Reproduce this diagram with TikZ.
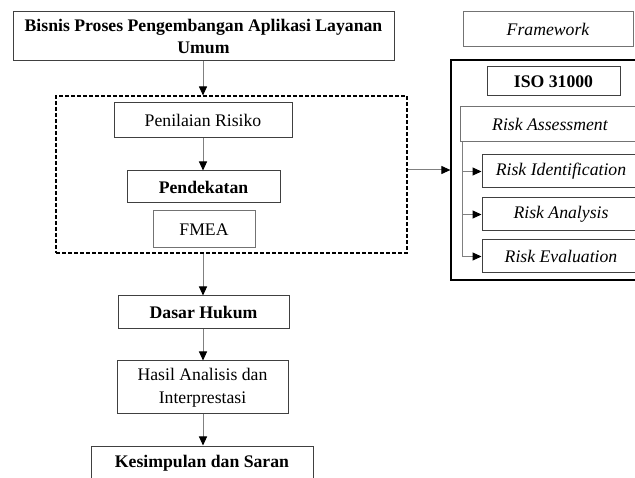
\documentclass[tikz,border=0pt]{standalone}
\usepackage{fontspec}
\setmainfont{Liberation Serif}
\usetikzlibrary{arrows.meta,calc}
\begin{document}
\begin{tikzpicture}[x=1pt,y=-1pt,
  every node/.style={font=\fontsize{17.7}{22.5}\selectfont},
  bf/.style={font=\fontsize{17.7}{22.5}\selectfont\bfseries},
  it/.style={font=\fontsize{17.7}{22.5}\selectfont\itshape},
  box/.style={draw=black!75, line width=1pt, inner sep=0pt, align=center, fill=white},
  lbox/.style={draw=black!55, line width=1pt, inner sep=0pt, align=center, fill=white},
  dbox/.style={draw=black, line width=1.1pt, dash pattern=on 4pt off 2pt, inner sep=0pt},
  arr/.style={draw=black!50, line width=1pt, -{Triangle[length=9pt,width=8pt,fill=black,color=black]}}]
\useasboundingbox (0,0) rectangle (635,478);
\clip (0,0) rectangle (635,478);
\fill[white] (0,0) rectangle (635,478);
% left column
\node[box, bf, minimum width=381, minimum height=49] (top) at (203.5,36.5) {Bisnis Proses Pengembangan Aplikasi Layanan\\Umum};
\node[dbox, minimum width=351, minimum height=157] (dash) at (231.5,174.5) {};
\node[box, minimum width=178, minimum height=35] (pen) at (203,120.5) {Penilaian Risiko};
\node[box, bf, minimum width=153, minimum height=32] (pend) at (203.5,187) {Pendekatan};
\node[lbox, minimum width=102, minimum height=37] (fmea) at (204,229.5) {FMEA};
\node[box, bf, minimum width=171, minimum height=33] (dasar) at (203.5,312.5) {Dasar Hukum};
\node[box, minimum width=171, minimum height=53] (hasil) at (202.5,387.5) {Hasil Analisis dan\\Interprestasi};
\node[box, bf, minimum width=222, minimum height=34] (kes) at (202,463) {Kesimpulan dan Saran};
\coordinate (axis) at (203,0);
% right column
\node[lbox, it, minimum width=170, minimum height=35] (fw) at (548,29.5) {Framework};
\node[draw=black, line width=1.2pt, inner sep=0pt, minimum width=200, minimum height=220] (outer) at (551,170) {};
\node[box, bf, minimum width=133, minimum height=29] (iso) at (553.5,81.5) {ISO 31000};
\node[lbox, it, minimum width=180, minimum height=35] (ra) at (550,124.5) {Risk Assessment};
\node[box, it, minimum width=158, minimum height=33] (ri) at (561,171.5) {Risk Identification};
\node[box, it, minimum width=158, minimum height=33] (ran) at (561,214.5) {Risk Analysis};
\node[box, it, minimum width=158, minimum height=33] (re) at (561,256.5) {Risk Evaluation};
% connectors
\draw[arr] (axis |- top.south) -- (axis |- dash.north);
\draw[arr] (axis |- pen.south) -- (axis |- pend.north);
\draw[arr] (axis |- dash.south) -- (axis |- dasar.north);
\draw[arr] (axis |- dasar.south) -- (axis |- hasil.north);
\draw[arr] (axis |- hasil.south) -- (axis |- kes.north);
\draw[arr] (dash.east |- 0,170) -- (outer.west |- 0,170);
\coordinate (tr) at ([xshift=3pt]ra.south west);
\draw[arr] (tr) |- (re.west);
\draw[arr] (tr |- ri.west) -- (ri.west);
\draw[arr] (tr |- ran.west) -- (ran.west);
\end{tikzpicture}
\end{document}
